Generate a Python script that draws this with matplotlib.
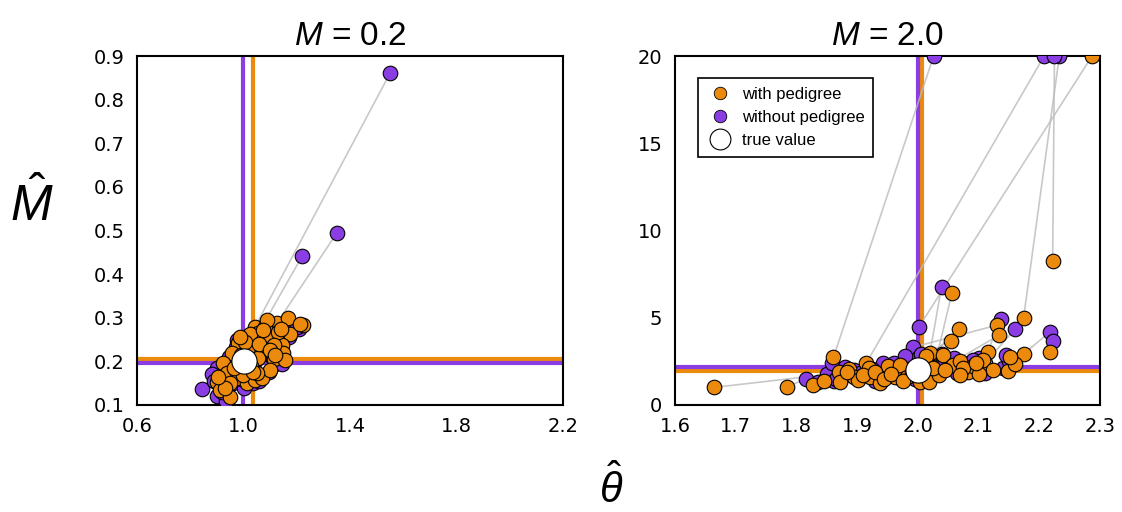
import matplotlib
matplotlib.use("Agg")
import matplotlib.pyplot as plt
from matplotlib.lines import Line2D

plt.rcParams["mathtext.fontset"] = "custom"
plt.rcParams["mathtext.rm"] = "Liberation Sans"
plt.rcParams["mathtext.it"] = "Liberation Sans:italic"

ORANGE = "#ec8a0e"
PURPLE = "#8a3de2"

# ---- M = 0.2 panel: estimates with / without pedigree (paired) ----
theta_ped_02 = [1.043, 1.056, 1.125, 0.899, 1.168, 1.081, 1.175, 1.143, 1.150, 1.113,
                1.024, 0.980, 0.956, 0.924, 0.937, 0.912, 0.949, 0.974, 1.012, 1.043,
                1.068, 1.100, 1.093, 1.131, 1.074, 1.018, 1.087, 1.050, 0.999, 0.949,
                1.113, 1.156, 1.074, 1.225, 1.212, 1.056, 0.990, 1.030, 0.965, 1.005,
                0.930, 1.060, 1.100, 1.140, 0.985, 1.035, 0.905, 1.120]
M_ped_02 = [0.279, 0.265, 0.287, 0.153, 0.299, 0.279, 0.263, 0.238, 0.219, 0.205,
            0.263, 0.241, 0.219, 0.196, 0.173, 0.134, 0.119, 0.161, 0.150, 0.157,
            0.161, 0.180, 0.253, 0.268, 0.230, 0.230, 0.295, 0.173, 0.169, 0.150,
            0.238, 0.203, 0.272, 0.283, 0.285, 0.207, 0.215, 0.190, 0.185, 0.245,
            0.140, 0.240, 0.225, 0.275, 0.255, 0.175, 0.165, 0.215]
theta_noped_02 = [1.550, 1.221, 1.350, 0.843, 1.160, 1.070, 1.170, 1.130, 1.140, 1.117,
                  1.015, 0.970, 0.945, 0.900, 0.880, 0.900, 0.935, 0.962, 1.000, 1.035,
                  1.060, 1.095, 1.085, 1.120, 1.065, 1.010, 1.060, 1.040, 0.990, 0.920,
                  1.105, 1.145, 1.065, 1.210, 1.200, 1.045, 0.980, 1.020, 0.955, 0.995,
                  0.920, 1.050, 1.090, 1.130, 0.975, 1.025, 0.890, 1.110]
M_noped_02 = [0.860, 0.442, 0.494, 0.136, 0.290, 0.270, 0.255, 0.230, 0.210, 0.194,
              0.255, 0.232, 0.210, 0.185, 0.170, 0.120, 0.110, 0.150, 0.140, 0.150,
              0.155, 0.175, 0.245, 0.260, 0.222, 0.222, 0.277, 0.165, 0.160, 0.140,
              0.230, 0.195, 0.265, 0.275, 0.278, 0.200, 0.208, 0.182, 0.178, 0.238,
              0.130, 0.232, 0.218, 0.268, 0.248, 0.168, 0.155, 0.208]

# ---- M = 2.0 panel ----
theta_ped_20 = [1.665, 1.784, 1.861, 1.915, 2.174, 2.222, 2.287, 2.056, 2.020, 2.130,
                2.133, 2.115, 2.110, 2.174, 2.218, 2.068, 2.054, 1.870,
                1.828, 1.846, 1.872, 1.887, 1.894, 1.902, 1.883, 1.921, 1.920, 1.938,
                1.950, 1.962, 1.971, 1.982, 2.004, 2.019, 2.013, 2.034, 2.041, 2.058,
                2.069, 2.083, 2.091, 2.108, 2.123, 2.148, 2.160, 2.152, 1.910, 1.930,
                1.945, 1.955, 1.990, 2.025, 2.045, 2.075, 2.100, 2.095, 2.070, 1.975]
M_ped_20 = [1.01, 1.05, 2.73, 2.40, 4.97, 8.27, 20.0, 6.40, 3.00, 4.57,
            3.99, 3.06, 2.40, 2.92, 3.02, 4.37, 3.69, 1.90,
            1.15, 1.39, 1.34, 2.05, 1.59, 1.43, 1.91, 1.59, 2.10, 1.24,
            2.23, 1.62, 2.29, 1.62, 1.34, 1.34, 2.81, 1.72, 2.87, 2.29,
            2.54, 1.91, 2.23, 2.58, 2.00, 1.97, 2.35, 2.73, 1.70, 1.90,
            1.50, 1.80, 1.90, 2.10, 2.00, 2.10, 1.80, 2.40, 1.70, 1.40]
theta_noped_20 = [1.850, 1.816, 2.026, 2.208, 2.233, 2.225, 2.002, 2.030, 2.039, 1.992,
                  2.060, 2.137, 2.160, 2.218, 2.222, 2.020, 2.000, 1.858,
                  1.835, 1.862, 1.865, 1.880, 1.890, 1.910, 1.895, 1.915, 1.943, 1.930,
                  1.960, 1.955, 1.979, 1.975, 1.995, 2.010, 2.005, 2.030, 2.039, 2.050,
                  2.060, 2.075, 2.085, 2.100, 2.111, 2.140, 2.150, 2.145, 1.905, 1.925,
                  1.940, 1.950, 1.985, 2.020, 2.040, 2.070, 2.095, 2.090, 2.065, 1.970]
M_noped_20 = [1.75, 1.49, 20.0, 20.0, 20.0, 20.0, 4.49, 2.60, 6.78, 3.31,
              2.50, 4.91, 4.34, 4.20, 3.69, 2.80, 2.70, 2.42,
              1.30, 1.39, 1.50, 2.20, 1.70, 1.91, 2.00, 1.75, 2.39, 1.40,
              2.40, 1.80, 2.81, 1.80, 1.50, 1.50, 2.95, 1.90, 2.90, 2.45,
              2.70, 2.05, 2.40, 2.70, 1.81, 2.10, 2.50, 2.85, 1.85, 2.05,
              1.65, 1.95, 2.05, 2.25, 2.15, 2.25, 1.95, 2.55, 1.85, 1.55]

# mean estimates (orange = with pedigree, purple = without)
mean_02 = {"ped": (1.034, 0.205), "noped": (0.999, 0.196)}
mean_20 = {"ped": (2.007, 1.95), "noped": (2.000, 2.18)}
true_02 = (1.0, 0.2)
true_20 = (2.0, 2.0)

fig = plt.figure(figsize=(11.22, 5.12), dpi=100)
ax1 = fig.add_axes([0.1221, 0.209, 0.3797, 0.6816])
ax2 = fig.add_axes([0.6016, 0.209, 0.3788, 0.6816])


def panel(ax, tp, mp, tn, mn, means, true, title):
    ax.axvline(means["ped"][0], color=ORANGE, lw=3, zorder=1)
    ax.axhline(means["ped"][1], color=ORANGE, lw=3, zorder=1)
    ax.axvline(means["noped"][0], color=PURPLE, lw=3, zorder=1)
    ax.axhline(means["noped"][1], color=PURPLE, lw=3, zorder=1)
    for a, b, c, d in zip(tp, mp, tn, mn):
        ax.plot([a, c], [b, d], color="#bbbbbb", lw=1.2, alpha=0.8, zorder=2)
    ax.scatter(tn, mn, s=110, color=PURPLE, edgecolor="black", lw=0.8, zorder=3)
    ax.scatter(tp, mp, s=110, color=ORANGE, edgecolor="black", lw=0.8, zorder=4)
    ax.scatter([true[0]], [true[1]], s=330, color="white", edgecolor="black", lw=0.8, zorder=5)
    ax.set_title(title, fontsize=24, pad=8, family="Liberation Sans")
    ax.tick_params(length=0, labelsize=14, pad=9)
    for s in ax.spines.values():
        s.set_linewidth(1.5)


panel(ax1, theta_ped_02, M_ped_02, theta_noped_02, M_noped_02, mean_02, true_02, "$M$ = 0.2")
ax1.set_xlim(0.6, 2.2)
ax1.set_ylim(0.1, 0.9)
ax1.set_xticks([0.6, 1.0, 1.4, 1.8, 2.2])
ax1.set_yticks([0.1, 0.2, 0.3, 0.4, 0.5, 0.6, 0.7, 0.8, 0.9])

panel(ax2, theta_ped_20, M_ped_20, theta_noped_20, M_noped_20, mean_20, true_20, "$M$ = 2.0")
ax2.set_xlim(1.6, 2.3)
ax2.set_ylim(0, 20)
ax2.set_xticks([1.6, 1.7, 1.8, 1.9, 2.0, 2.1, 2.2, 2.3])
ax2.set_yticks([0, 5, 10, 15, 20])

handles = [
    Line2D([], [], ls="", marker="o", ms=9, mfc=ORANGE, mec="black", mew=0.6, label="with pedigree"),
    Line2D([], [], ls="", marker="o", ms=9, mfc=PURPLE, mec="black", mew=0.6, label="without pedigree"),
    Line2D([], [], ls="", marker="o", ms=15, mfc="white", mec="black", mew=0.8, label="true value"),
]
leg = ax2.legend(handles=handles, loc="upper left", bbox_to_anchor=(0.035, 0.96),
                 prop={"family": "Liberation Sans", "size": 12}, fancybox=False,
                 framealpha=1, edgecolor="black", handletextpad=0.5, borderpad=0.5,
                 labelspacing=0.5, handlelength=1.6)
leg.get_frame().set_linewidth(1.2)

fig.text(0.028, 0.6, r"$\hat{M}$", fontsize=36, ha="center", va="center")
fig.text(0.545, 0.045, r"$\hat{\theta}$", fontsize=30, ha="center", va="center")

plt.savefig("out.png", dpi=100)
